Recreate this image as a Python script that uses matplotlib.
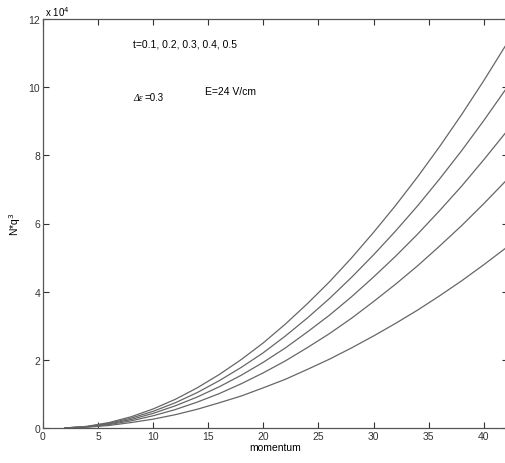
import matplotlib
matplotlib.use("Agg")
import matplotlib.pyplot as plt

plt.rcParams['font.family'] = ['Liberation Sans', 'DejaVu Sans']

# momentum values where the curves were read
momentum = [2, 4, 6, 8, 10, 12, 14, 16, 18, 20, 22, 24, 26, 28, 30, 32, 34, 36, 38, 40, 42, 44]

# N*q^3 in units of 1e4, one list per curve (top to bottom)
curve1 = [0.001, 0.049, 0.16, 0.33, 0.56, 0.84, 1.18, 1.57, 2.01, 2.50, 3.05, 3.65, 4.29, 4.99, 5.74, 6.53, 7.37, 8.26, 9.20, 10.19, 11.23, 12.31]
curve2 = [0.001, 0.043, 0.14, 0.29, 0.49, 0.74, 1.04, 1.39, 1.78, 2.21, 2.70, 3.23, 3.80, 4.42, 5.08, 5.78, 6.52, 7.31, 8.14, 9.02, 9.94, 10.89]
curve3 = [0.001, 0.038, 0.12, 0.25, 0.43, 0.65, 0.91, 1.21, 1.55, 1.93, 2.35, 2.82, 3.31, 3.85, 4.43, 5.04, 5.69, 6.38, 7.10, 7.87, 8.67, 9.50]
curve4 = [0.001, 0.032, 0.10, 0.21, 0.36, 0.54, 0.76, 1.01, 1.30, 1.62, 1.97, 2.36, 2.77, 3.22, 3.71, 4.22, 4.76, 5.34, 5.94, 6.58, 7.25, 7.95]
curve5 = [0.000, 0.023, 0.075, 0.16, 0.26, 0.39, 0.55, 0.74, 0.94, 1.18, 1.43, 1.72, 2.02, 2.35, 2.70, 3.07, 3.46, 3.88, 4.32, 4.79, 5.28, 5.79]

xticks = [0, 5, 10, 15, 20, 25, 30, 35, 40]
yticks = [0, 2, 4, 6, 8, 10, 12]

fig = plt.figure(figsize=(5.05, 4.64), dpi=100)
# axes runs a bit past the right edge of the figure, as in the reference
ax = fig.add_axes([43/505, 35/464, 465/505, 409/464])

for c in [curve1, curve2, curve3, curve4, curve5]:
    ax.plot(momentum, c, color='#666666', lw=0.9)

ax.set_xlim(0, 42.2)
ax.set_ylim(0, 12)
ax.set_xticks(xticks)
ax.set_yticks(yticks)
ax.tick_params(direction='in', length=4, width=0.8, top=True, right=True,
               labelsize=7.5, colors='#333333', pad=2)
for s in ax.spines.values():
    s.set_color('#555555')
    s.set_linewidth(0.9)

ax.set_xlabel('momentum', fontsize=7.5, labelpad=1)
ax.set_ylabel(r'N*q$^3$', fontsize=7.5, labelpad=4)

fig.text(45/505, 1 - 12/464, r'x 10$^4$', fontsize=7, va='center', ha='left')
ax.text(8.2, 11.27, 't=0.1, 0.2, 0.3, 0.4, 0.5', fontsize=7.5, va='center')
ax.text(8.2, 9.7, 'Δε', fontsize=7, va='center', style='italic',
        family=['Liberation Serif', 'DejaVu Serif'])
ax.text(9.2, 9.7, '=0.3', fontsize=7, va='center')
ax.text(14.7, 9.9, 'E=24 V/cm', fontsize=7.5, va='center')

fig.savefig('out.png', dpi=100)
